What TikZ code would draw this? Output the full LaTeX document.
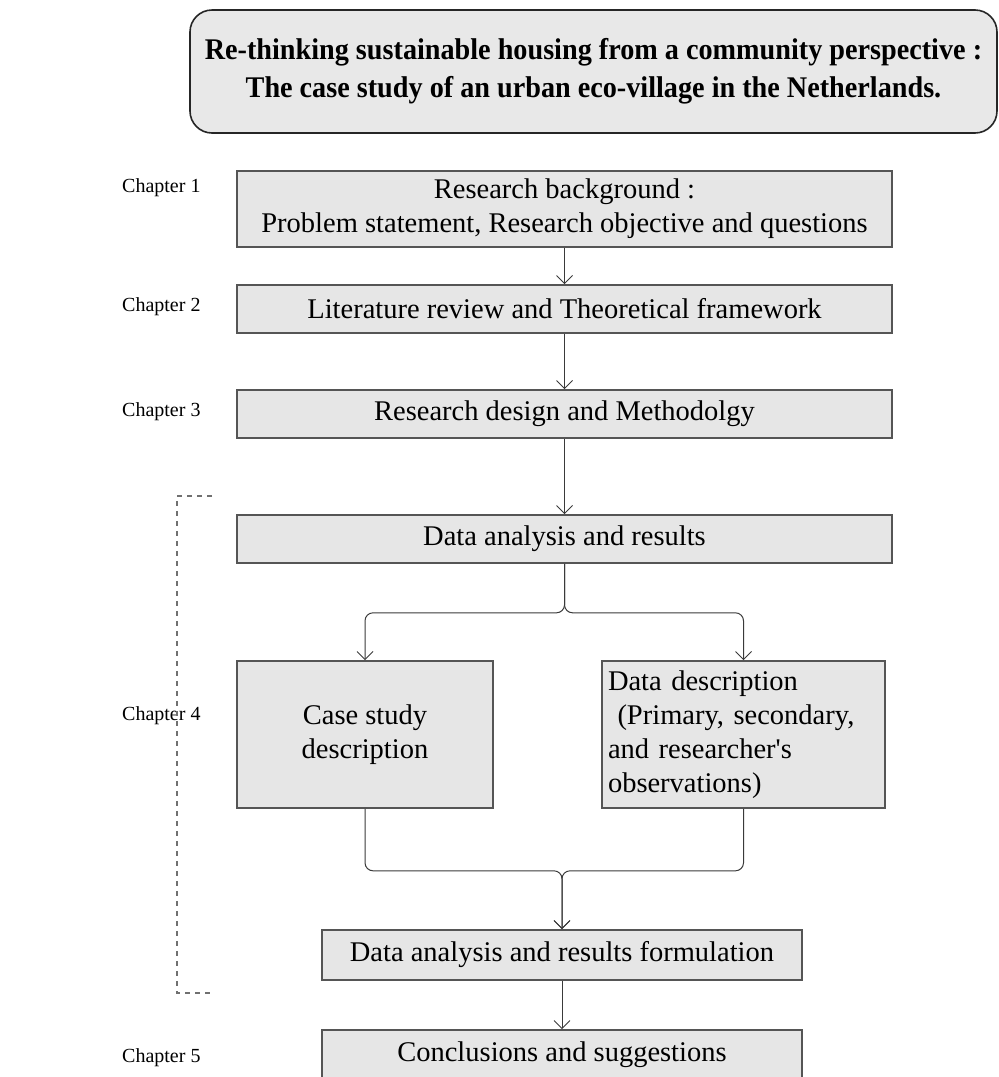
\documentclass[tikz,border=0pt]{standalone}
\usepackage{fontspec}
\setmainfont{Liberation Serif}[Ligatures=TeXOff]
\newfontfamily\titlefont[FakeStretch=0.94]{Liberation Serif}
\usetikzlibrary{arrows.meta}
\definecolor{boxfill}{HTML}{E6E6E6}
\definecolor{titlefill}{HTML}{E8E8E8}
\definecolor{boxline}{HTML}{555555}
\definecolor{wire}{HTML}{3A3A3A}
\definecolor{dashline}{HTML}{707070}
\tikzset{
  stepbox/.style={draw=boxline, line width=1.6pt, fill=boxfill, inner sep=0pt,
    align=center, font=\fontsize{28.5}{34}\selectfont},
  titlebox/.style={draw=black!85, line width=1.6pt, fill=titlefill, rounded corners=22pt,
    align=center, inner sep=0pt, font=\titlefont\bfseries\fontsize{30}{38}\selectfont},
  chap/.style={anchor=west, inner sep=0pt, font=\fontsize{20}{24}\selectfont},
  arr/.style={draw=wire, line width=1pt, -{Straight Barb[length=8pt,width=16pt]}},
  bracket/.style={draw=dashline, line width=1.2pt, dash pattern=on 5pt off 5pt}
}
\begin{document}
\begin{tikzpicture}[x=1pt,y=-1pt]
\useasboundingbox (0,0) rectangle (999,1077);
\clip (0,0) rectangle (999,1077);

% title
\node[titlebox, minimum width=807pt, minimum height=123pt] (title) at (593.5,71.5)
  {Re-thinking sustainable housing from a community perspective :\\
   The case study of an urban eco-village in the Netherlands.};

% main chain of boxes
\node[stepbox, minimum width=655pt, minimum height=76pt] (bg) at (564.5,209)
  {Research background :\\Problem statement, Research objective and questions};
\node[stepbox, minimum width=655pt, minimum height=48pt] (lit) at (564.5,309)
  {Literature review and Theoretical framework};
\node[stepbox, minimum width=655pt, minimum height=48pt] (meth) at (564.5,414)
  {Research design and Methodolgy};
\node[stepbox, minimum width=655pt, minimum height=48pt] (da) at (564.5,539)
  {Data analysis and results};
\node[stepbox, minimum width=256pt, minimum height=147pt] (case) at (365,734.5)
  {Case study\\description};
\node[stepbox, minimum width=283pt, minimum height=147pt, align=left,
      text width=271pt] (desc) at (743.5,734.5)
  {Data description\\\ (Primary, secondary,\\and researcher's\\observations)};
\node[stepbox, minimum width=480pt, minimum height=50pt] (form) at (562,955)
  {Data analysis and results formulation};
\node[stepbox, minimum width=480pt, minimum height=50pt] (concl) at (562,1055)
  {Conclusions and suggestions};

% chapter labels
\node[chap] (c1) at (122,188) {Chapter 1};
\node[chap] (c2) at (122,307) {Chapter 2};
\node[chap] (c3) at (122,412) {Chapter 3};
\node[chap] (c4) at (122,716) {Chapter 4};
\node[chap] (c5) at (122,1058) {Chapter 5};

% connectors
\draw[arr] (bg.south) -- (lit.north);
\draw[arr] (lit.south) -- (meth.north);
\draw[arr] (meth.south) -- (da.north);
\draw[arr, rounded corners=8pt] (da.south) -- ++(0,49) -| (case.north);
\draw[arr, rounded corners=8pt] (da.south) -- ++(0,49) -| (desc.north);
\draw[arr, rounded corners=8pt] (case.south) -- ++(0,62) -| (form.north);
\draw[arr, rounded corners=8pt] (desc.south) -- ++(0,62) -| (form.north);
\draw[arr] (form.south) -- (concl.north);

% chapter 4 bracket
\coordinate (btop) at (212,496);
\coordinate (bbot) at (212,993);
\draw[bracket] (btop) -- (177,496) -- (177,993) -- (bbot);
\end{tikzpicture}
\end{document}
